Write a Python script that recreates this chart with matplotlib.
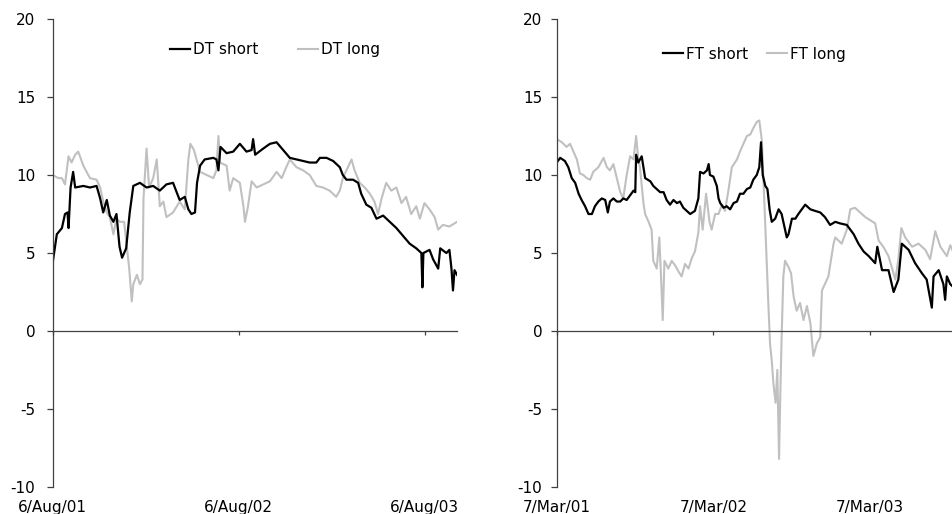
import matplotlib
matplotlib.use('Agg')
import matplotlib.pyplot as plt
import matplotlib.transforms as mtransforms
import numpy as np

# Left panel: days since 6 Aug 2001
dt_start = '2001-08-06'
dt_short_days = [0, 8, 18, 24, 29, 31, 35, 40, 44, 60, 73, 86, 93, 99, 106, 112, 119, 125,
                 131, 136, 144, 151, 158, 171, 184, 197, 210, 223, 236, 243, 249, 259, 266,
                 272, 279, 283, 289, 298, 315, 321, 325, 329, 341, 354, 367, 380, 390, 393,
                 397, 413, 426, 439, 452, 465, 478, 491, 504, 517, 524, 537, 550, 563, 569,
                 576, 589, 599, 605, 615, 625, 635, 648, 661, 674, 687, 700, 713, 723, 725,
                 727, 739, 746, 756, 760, 772, 778, 782, 785, 788, 793]
dt_short = [4.4, 6.2, 6.6, 7.5, 7.6, 6.6, 9.2, 10.2, 9.2, 9.3, 9.2, 9.3, 8.5, 7.6, 8.4, 7.4,
            7.0, 7.5, 5.4, 4.7, 5.3, 7.6, 9.3, 9.5, 9.2, 9.3, 9.0, 9.4, 9.5, 8.9, 8.4, 8.6,
            7.8, 7.5, 7.6, 9.5, 10.6, 11.0, 11.1, 11.0, 10.3, 11.8, 11.4, 11.5, 12.0, 11.5,
            11.6, 12.3, 11.3, 11.7, 12.0, 12.1, 11.6, 11.1, 11.0, 10.9, 10.8, 10.8, 11.1,
            11.1, 10.9, 10.5, 10.0, 9.7, 9.7, 9.5, 8.8, 8.1, 7.9, 7.2, 7.4, 7.0, 6.6, 6.1,
            5.6, 5.3, 5.0, 2.8, 5.0, 5.2, 4.6, 4.0, 5.3, 5.0, 5.2, 4.0, 2.6, 3.9, 3.6]

dt_long_days = [0, 11, 18, 24, 31, 37, 44, 50, 60, 73, 86, 93, 99, 106, 112, 119, 125, 132,
                140, 145, 150, 155, 158, 165, 171, 176, 178, 184, 189, 197, 204, 210, 217,
                223, 236, 249, 259, 266, 270, 277, 282, 289, 302, 315, 321, 325, 328, 341,
                347, 354, 367, 374, 377, 383, 390, 400, 413, 426, 439, 449, 458, 465, 478,
                491, 504, 517, 530, 543, 556, 563, 569, 579, 586, 592, 602, 612, 622, 631,
                638, 645, 654, 664, 674, 684, 693, 703, 713, 720, 729, 739, 749, 756, 765,
                778, 793]
dt_long = [10.0, 9.8, 9.8, 9.4, 11.2, 10.8, 11.3, 11.5, 10.6, 9.8, 9.7, 9.2, 8.3, 7.6, 7.3,
           6.2, 7.2, 7.0, 7.0, 5.5, 4.0, 1.9, 3.0, 3.6, 3.0, 3.3, 8.5, 11.7, 9.2, 9.8, 11.0,
           8.0, 8.3, 7.3, 7.6, 8.3, 7.8, 11.0, 12.0, 11.6, 11.0, 10.2, 10.0, 9.8, 10.3, 12.5,
           10.8, 10.6, 9.0, 9.8, 9.5, 8.0, 7.0, 8.0, 9.6, 9.2, 9.4, 9.6, 10.2, 9.8, 10.5,
           11.0, 10.5, 10.3, 10.0, 9.3, 9.2, 9.0, 8.6, 9.0, 9.8, 10.5, 11.0, 10.3, 9.5, 9.2,
           8.8, 8.3, 7.5, 8.5, 9.5, 9.0, 9.2, 8.2, 8.6, 7.5, 8.0, 7.2, 8.2, 7.8, 7.3, 6.5,
           6.8, 6.7, 7.0]

# Right panel: days since 7 Mar 2001
ft_start = '2001-03-07'
ft_short_days = [0, 8, 19, 27, 35, 43, 51, 58, 66, 74, 82, 89, 97, 105, 113, 119, 124, 132,
                 140, 148, 155, 163, 171, 179, 183, 185, 190, 198, 206, 218, 225, 233, 241,
                 249, 256, 264, 272, 280, 287, 295, 303, 311, 322, 330, 334, 342, 350, 354,
                 357, 365, 373, 377, 381, 389, 396, 404, 412, 420, 427, 435, 443, 451, 458,
                 466, 472, 476, 480, 486, 491, 496, 501, 509, 517, 524, 532, 536, 540, 548,
                 556, 563, 571, 579, 591, 602, 614, 625, 637, 649, 660, 676, 692, 703, 715,
                 727, 742, 747, 758, 773, 785, 796, 804, 820, 835, 851, 862, 874, 878, 890,
                 901, 905, 909, 917, 925]
ft_short = [10.8, 11.1, 10.9, 10.5, 9.8, 9.5, 8.8, 8.4, 8.0, 7.5, 7.5, 8.0, 8.3, 8.5, 8.4,
            7.6, 8.3, 8.5, 8.3, 8.3, 8.5, 8.4, 8.7, 9.0, 8.9, 11.3, 10.8, 11.2, 9.8, 9.6, 9.3,
            9.1, 8.9, 8.9, 8.4, 8.1, 8.4, 8.2, 8.3, 7.9, 7.7, 7.5, 7.7, 8.5, 10.2, 10.1, 10.3,
            10.7, 10.0, 9.9, 9.3, 8.5, 8.2, 7.9, 8.0, 7.8, 8.2, 8.3, 8.8, 8.8, 9.1, 9.2, 9.7,
            10.0, 10.5, 12.1, 10.0, 9.3, 9.1, 7.8, 7.0, 7.2, 7.8, 7.5, 6.5, 6.0, 6.2, 7.2,
            7.2, 7.5, 7.8, 8.1, 7.8, 7.7, 7.6, 7.3, 6.8, 7.0, 6.9, 6.8, 6.2, 5.6, 5.1, 4.8,
            4.35, 5.4, 3.9, 3.9, 2.5, 3.3, 5.6, 5.2, 4.35, 3.7, 3.3, 1.5, 3.5, 3.9, 3.0, 2.0,
            3.5, 3.0, 2.8]

ft_long_days = [0, 12, 23, 31, 39, 47, 54, 62, 70, 78, 85, 97, 109, 117, 124, 132, 140, 148,
                155, 163, 171, 179, 185, 190, 194, 202, 206, 214, 221, 225, 233, 239, 243,
                247, 251, 260, 268, 276, 284, 291, 299, 307, 315, 322, 330, 334, 340, 348,
                356, 361, 369, 377, 385, 392, 400, 408, 420, 427, 435, 443, 451, 458, 466,
                472, 478, 486, 493, 497, 501, 505, 510, 514, 518, 521, 524, 528, 532, 540,
                546, 552, 559, 567, 575, 583, 591, 598, 606, 614, 618, 633, 645, 649, 664,
                676, 684, 695, 719, 742, 750, 761, 773, 789, 796, 803, 812, 828, 843, 859,
                870, 882, 894, 909, 917, 925]
ft_long = [12.3, 12.1, 11.8, 12.0, 11.5, 11.0, 10.1, 10.0, 9.8, 9.7, 10.2, 10.5, 11.1, 10.5,
           10.3, 10.7, 9.8, 8.9, 8.5, 10.0, 11.2, 11.0, 12.5, 11.0, 10.5, 8.2, 7.5, 7.0, 6.5,
           4.5, 4.0, 6.0, 3.5, 0.7, 4.5, 4.0, 4.5, 4.2, 3.8, 3.5, 4.3, 4.0, 4.7, 5.1, 6.3,
           8.0, 6.5, 8.8, 7.0, 6.5, 7.5, 7.5, 8.1, 7.7, 9.0, 10.5, 11.0, 11.5, 12.0, 12.5,
           12.6, 13.0, 13.4, 13.5, 12.2, 6.7, 1.8, -0.8, -1.9, -3.4, -4.6, -2.5, -8.2, -4.0,
           -0.4, 3.5, 4.5, 4.1, 3.7, 2.2, 1.3, 1.8, 0.7, 1.6, 0.5, -1.6, -0.8, -0.4, 2.6,
           3.5, 5.6, 6.0, 5.6, 6.5, 7.8, 7.9, 7.3, 6.9, 5.8, 5.4, 4.8, 3.3, 4.6, 6.6, 6.0,
           5.4, 5.6, 5.2, 4.6, 6.4, 5.4, 4.8, 5.5, 5.0]

dt_ticks = ['2001-08-06', '2002-08-06', '2003-08-06']
dt_tick_labels = ['6/Aug/01', '6/Aug/02', '6/Aug/03']
ft_ticks = ['2001-03-07', '2002-03-07', '2003-03-07']
ft_tick_labels = ['7/Mar/01', '7/Mar/02', '7/Mar/03']

plt.rcParams['font.family'] = ['DejaVu Sans']
plt.rcParams['axes.unicode_minus'] = False
FS = 11


def to_dates(start, days):
    return np.datetime64(start) + np.array(days, dtype='timedelta64[D]')


def style_panel(ax, start, end_days, ticks, tick_labels, ypad):
    ax.set_xlim(np.datetime64(start), np.datetime64(start) + np.timedelta64(end_days, 'D'))
    ax.set_ylim(-10, 20)
    ax.set_yticks(np.arange(-10, 21, 5))
    ax.spines['top'].set_visible(False)
    ax.spines['right'].set_visible(False)
    ax.spines['bottom'].set_position(('data', 0))
    for s in ('left', 'bottom'):
        ax.spines[s].set_color('#404040')
        ax.spines[s].set_linewidth(0.9)
    tick_dates = np.array(ticks, dtype='datetime64[D]')
    ax.set_xticks(tick_dates)
    ax.set_xticklabels([])
    ax.tick_params(axis='x', direction='out', length=3, width=0.9, color='#404040')
    ax.tick_params(axis='y', direction='out', length=4.5, width=0.9, color='#404040',
                   labelsize=FS, pad=ypad)
    # date labels sit below the plot, not on the zero line
    trans = mtransforms.blended_transform_factory(ax.transData, ax.transAxes)
    for d, lab in zip(tick_dates, tick_labels):
        ax.text(d, -0.043, lab, transform=trans, ha='center', va='center',
                fontsize=FS, clip_on=False)


fig = plt.figure(figsize=(9.52, 5.14), dpi=100)
ax1 = fig.add_axes([0.0554, 0.0525, 0.4247, 0.9105])
ax2 = fig.add_axes([0.5848, 0.0525, 0.4152, 0.9105])

ax1.plot(to_dates(dt_start, dt_long_days), dt_long, color='#c0c0c0', lw=1.5, label='DT long')
ax1.plot(to_dates(dt_start, dt_short_days), dt_short, color='black', lw=1.6, label='DT short')
style_panel(ax1, dt_start, 793, dt_ticks, dt_tick_labels, 8)
h, l = ax1.get_legend_handles_labels()
ax1.legend(h[::-1], l[::-1], loc='center', bbox_to_anchor=(0.55, 0.935), ncol=2,
           frameon=False, fontsize=FS, handlelength=1.3, handletextpad=0.2,
           columnspacing=2.6)

ax2.plot(to_dates(ft_start, ft_long_days), ft_long, color='#c0c0c0', lw=1.5, label='FT long')
ax2.plot(to_dates(ft_start, ft_short_days), ft_short, color='black', lw=1.6, label='FT short')
style_panel(ax2, ft_start, 921, ft_ticks, ft_tick_labels, 6)
h, l = ax2.get_legend_handles_labels()
ax2.legend(h[::-1], l[::-1], loc='center', bbox_to_anchor=(0.5, 0.925), ncol=2,
           frameon=False, fontsize=FS, handlelength=1.3, handletextpad=0.2,
           columnspacing=1.2)

fig.savefig('out.png', dpi=100)
